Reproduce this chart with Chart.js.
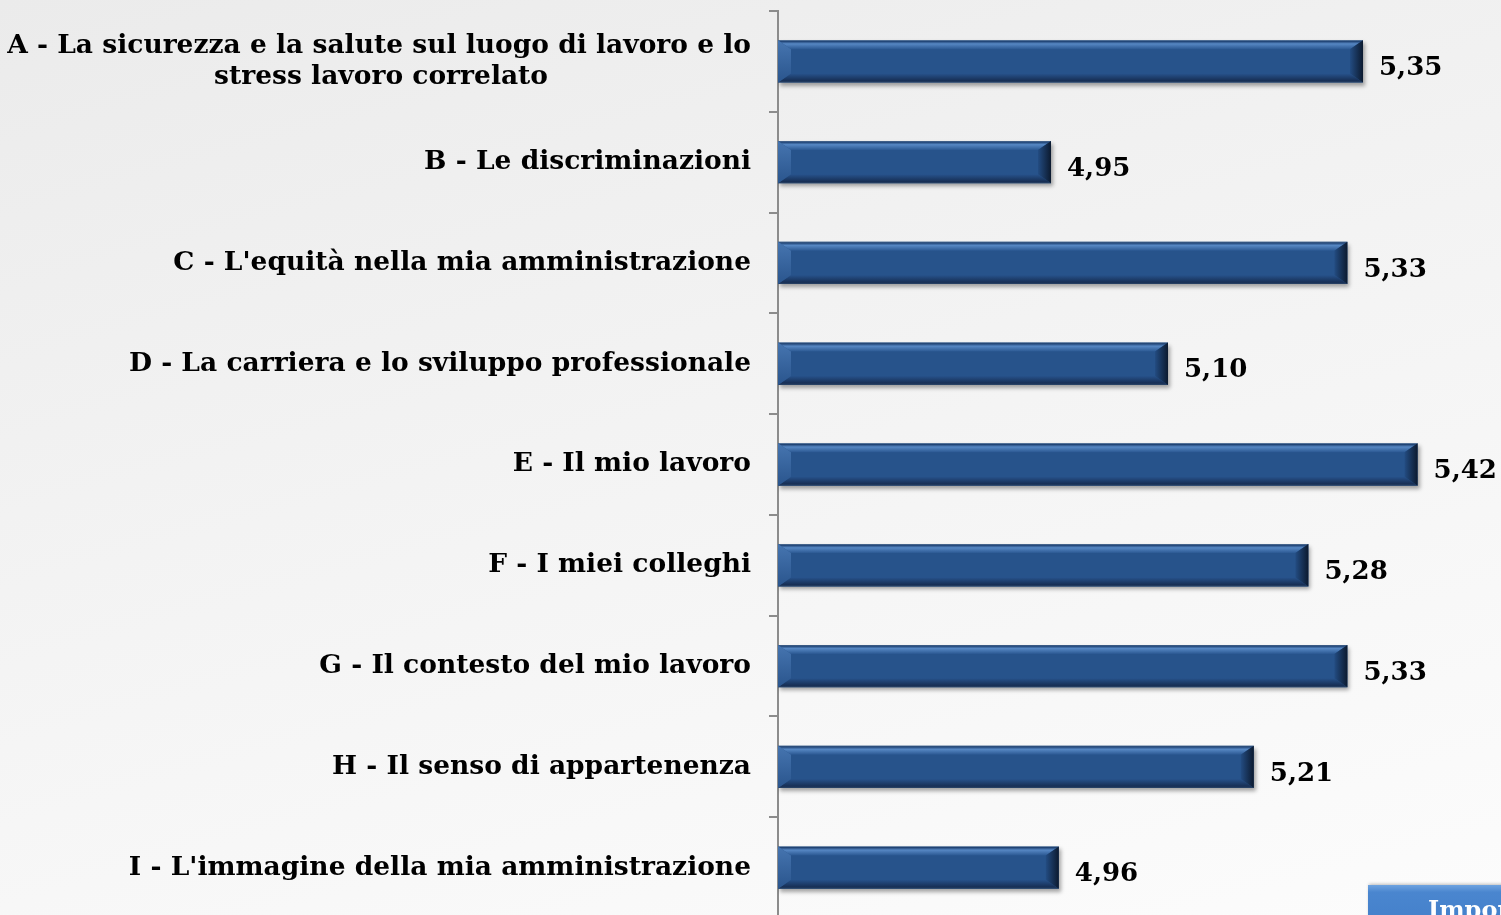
<!DOCTYPE html>
<html>
<head>
<meta charset="utf-8">
<script src="https://cdn.jsdelivr.net/npm/chart.js@4.4.1/dist/chart.umd.min.js"></script>
<style>
  html, body { margin: 0; padding: 0; width: 1501px; height: 915px; overflow: hidden; }
  body { background: linear-gradient(165deg, #ebebeb 0%, #f3f3f3 45%, #f8f8f8 75%, #fcfcfc 100%); position: relative; }
  #wrap { position: absolute; left: 0; top: 0; width: 1600px; height: 925px; }
  #btn { position: absolute; left: 1368px; top: 885px; width: 220px; height: 60px;
         background: linear-gradient(180deg, #6ea3e0 0%, #4a86cf 12%, #3f7cc7 100%);
         box-shadow: 1px -1px 3px rgba(0,0,0,0.25);
         color: #fff; font: bold 24px "DejaVu Serif", serif; padding-left: 60px; padding-top: 10px; box-sizing: border-box; white-space: nowrap; }
</style>
</head>
<body>
<div id="wrap"><canvas id="c" width="1600" height="925"></canvas></div>
<div id="btn">Importanza</div>
<script>
const categories = [
  ["A - La sicurezza e la salute sul luogo di lavoro e lo", "stress lavoro correlato"],
  "B - Le discriminazioni",
  "C - L'equità nella mia amministrazione",
  "D - La carriera e lo sviluppo professionale",
  "E - Il mio lavoro",
  "F - I miei colleghi",
  "G - Il contesto del mio lavoro",
  "H - Il senso di appartenenza",
  "I - L'immagine della mia amministrazione"
];
const values = [5.35, 4.95, 5.33, 5.10, 5.42, 5.28, 5.33, 5.21, 4.96];
const xMin = 4.6;
const xMax = 5.6;

const FONT = "DejaVu Serif";
const LABEL_SIZE = 26.5;

const mctx = document.createElement('canvas').getContext('2d');
mctx.font = 'bold ' + LABEL_SIZE + 'px "' + FONT + '"';
function centreLines(lines) {
  if (!Array.isArray(lines)) return lines;
  const w0 = mctx.measureText(lines[0]).width;
  const sp = mctx.measureText('\u00a0').width;
  return lines.map(l => {
    const n = Math.round((w0 - mctx.measureText(l).width) / 2 / sp);
    return l + '\u00a0'.repeat(Math.max(0, n));
  });
}

const shadowPlugin = {
  id: 'shadow',
  beforeDatasetDraw(chart) {
    const ctx = chart.ctx;
    ctx.save();
    ctx.shadowColor = 'rgba(0,0,0,0.35)';
    ctx.shadowBlur = 4;
    ctx.shadowOffsetX = 2;
    ctx.shadowOffsetY = 3;
  },
  afterDatasetDraw(chart) { chart.ctx.restore(); }
};

const bevelPlugin = {
  id: 'bevel',
  afterDatasetsDraw(chart) {
    const ctx = chart.ctx;
    const meta = chart.getDatasetMeta(0);
    meta.data.forEach((bar, i) => {
      const p = bar.getProps(['x', 'y', 'base', 'height'], true);
      const x0 = Math.max(p.base, chart.chartArea.left), x1 = p.x, y0 = p.y - p.height / 2, y1 = p.y + p.height / 2;
      const bx = 13, by = 9;
      ctx.save();
      // top bevel
      let g = ctx.createLinearGradient(0, y0, 0, y0 + by);
      g.addColorStop(0, '#5a7698');
      g.addColorStop(0.12, '#1f4273');
      g.addColorStop(0.4, '#5687c3');
      g.addColorStop(1, '#2b5892');
      ctx.fillStyle = g;
      ctx.beginPath(); ctx.moveTo(x0, y0); ctx.lineTo(x1, y0); ctx.lineTo(x1 - bx, y0 + by); ctx.lineTo(x0 + bx, y0 + by); ctx.closePath(); ctx.fill();
      // bottom bevel
      g = ctx.createLinearGradient(0, y1 - by, 0, y1);
      g.addColorStop(0, '#27528b');
      g.addColorStop(0.8, '#172f55');
      g.addColorStop(1, '#2c4668');
      ctx.fillStyle = g;
      ctx.beginPath(); ctx.moveTo(x0, y1); ctx.lineTo(x1, y1); ctx.lineTo(x1 - bx, y1 - by); ctx.lineTo(x0 + bx, y1 - by); ctx.closePath(); ctx.fill();
      // left bevel
      g = ctx.createLinearGradient(0, y0, 0, y1);
      g.addColorStop(0, '#4675b0');
      g.addColorStop(1, '#2a558d');
      ctx.fillStyle = g;
      ctx.beginPath(); ctx.moveTo(x0, y0); ctx.lineTo(x0 + bx, y0 + by); ctx.lineTo(x0 + bx, y1 - by); ctx.lineTo(x0, y1); ctx.closePath(); ctx.fill();
      // right bevel
      g = ctx.createLinearGradient(x1 - bx, 0, x1, 0);
      g.addColorStop(0, '#234c82');
      g.addColorStop(1, '#0c1a2f');
      ctx.fillStyle = g;
      ctx.beginPath(); ctx.moveTo(x1, y0); ctx.lineTo(x1, y1); ctx.lineTo(x1 - bx, y1 - by); ctx.lineTo(x1 - bx, y0 + by); ctx.closePath(); ctx.fill();
      ctx.restore();
      // value label
      ctx.save();
      ctx.font = 'bold 26px "' + FONT + '"';
      ctx.fillStyle = '#000';
      ctx.textAlign = 'left';
      ctx.textBaseline = 'middle';
      ctx.fillText(values[i].toFixed(2).replace('.', ','), x1 + 16, p.y + 7);
      ctx.restore();
    });
  }
};

new Chart(document.getElementById('c'), {
  type: 'bar',
  data: {
    labels: categories,
    datasets: [{
      data: values,
      base: xMin,
      backgroundColor: '#27538b',
      borderWidth: 0,
      categoryPercentage: 1,
      barPercentage: 0.42
    }]
  },
  options: {
    indexAxis: 'y',
    responsive: false,
    animation: false,
    layout: { padding: { top: 11, bottom: 7, right: 42, left: 0 } },
    plugins: { legend: { display: false }, tooltip: { enabled: false } },
    scales: {
      x: { display: false, min: xMin, max: xMax },
      y: {
        afterFit(scale) { scale.width = 778; scale.paddingTop = 0; scale.paddingBottom = 0; },
        border: { display: true, color: '#8c8c8c', width: 2 },
        grid: { display: true, drawOnChartArea: false, drawTicks: true, tickLength: 9, color: '#8c8c8c', lineWidth: 2, offset: true },
        ticks: {
          color: '#000',
          padding: 18,
          callback(value) { return centreLines(this.getLabelForValue(value)); },
          font: { family: FONT, size: LABEL_SIZE, weight: 'bold', lineHeight: 1.17 }
        }
      }
    }
  },
  plugins: [shadowPlugin, bevelPlugin]
});
</script>
</body>
</html>
